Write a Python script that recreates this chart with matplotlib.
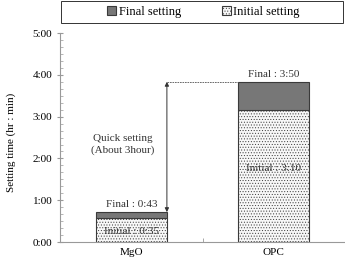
import numpy as np
import matplotlib
matplotlib.use('Agg')
import matplotlib.pyplot as plt
from matplotlib.patches import Rectangle

plt.rcParams['font.family'] = ['Liberation Serif', 'DejaVu Serif']
plt.rcParams['hatch.color'] = '#c4c4c4'
plt.rcParams['hatch.linewidth'] = 0.4

categories = ['MgO', 'OPC']
initial = [35, 190]      # minutes
final = [43, 230]        # minutes
initial_labels = ['Initial : 0:35', 'Initial : 3:10']
final_labels = ['Final : 0:43', 'Final : 3:50']
yticks = [0, 60, 120, 180, 240, 300]
ytick_labels = ['0:00', '1:00', '2:00', '3:00', '4:00', '5:00']

fig = plt.figure(figsize=(3.45, 2.62), dpi=100)
ax = fig.add_axes([0.174, 0.076, 0.826, 0.798])

x = np.arange(len(categories))
width = 0.5
edge = '#3a3a3a'

ax.bar(x, initial, width, color='#f7f7f7', edgecolor=edge, hatch='......',
       linewidth=0.8, label='Initial setting', zorder=2)
ax.bar(x, np.array(final) - np.array(initial), width, bottom=initial,
       color='#777777', edgecolor=edge, linewidth=0.8, label='Final setting', zorder=2)

fs = 8
tc = '#333333'
ax.text(x[0], initial[0] / 2 - 2, initial_labels[0], ha='center', va='center', fontsize=fs, color=tc, zorder=3)
ax.text(x[0], final[0] + 5, final_labels[0], ha='center', va='bottom', fontsize=fs, color=tc)
ax.text(x[1], 106, initial_labels[1], ha='center', va='center', fontsize=fs, color=tc, zorder=3)
ax.text(x[1], final[1] + 4, final_labels[1], ha='center', va='bottom', fontsize=fs, color=tc)

# quick setting arrow
ax_x = x[0] + width / 2
ax.plot([ax_x, x[1] - width / 2], [final[1], final[1]], ls=(0, (2, 1)), color='#555555', lw=0.6)
ax.annotate('', xy=(ax_x, final[0]), xytext=(ax_x, final[1]),
            arrowprops=dict(arrowstyle='<|-|>', color=tc, lw=0.7,
                            mutation_scale=6, shrinkA=0, shrinkB=0))
ax.text(-0.06, 140, 'Quick setting\n(About 3hour)', ha='center', va='center', fontsize=fs,
        color=tc, linespacing=1.3)

ax.set_xlim(-0.5, 1.5)
ax.set_ylim(0, 300)
ax.set_yticks(yticks)
ax.set_yticklabels(ytick_labels, fontsize=fs)
ax.set_yticks(np.arange(0, 301, 10), minor=True)
ax.set_xticks(x)
ax.set_xticklabels(categories, fontsize=fs)
ax.set_xticks([0.5, 1.5], minor=True)
ax.tick_params(axis='x', which='major', length=0, pad=4)
ax.tick_params(axis='x', which='minor', length=3, color='#999999', direction='in')
ax.tick_params(axis='y', which='major', length=4, color='#999999', direction='inout')
ax.tick_params(axis='y', which='minor', length=2, color='#aaaaaa', direction='in')
ax.set_ylabel('Setting time (hr : min)', fontsize=8)
ax.yaxis.set_label_coords(-0.155, 0.475)
for s in ['top', 'right']:
    ax.spines[s].set_visible(False)
for s in ['left', 'bottom']:
    ax.spines[s].set_color('#999999')
    ax.spines[s].set_linewidth(0.8)

# legend box across the top
fig.patches.append(Rectangle((0.177, 0.912), 0.817, 0.085, transform=fig.transFigure,
                             fill=False, edgecolor='#333333', linewidth=0.7))
h, l = ax.get_legend_handles_labels()
leg = fig.legend(h[::-1], l[::-1], loc='center', bbox_to_anchor=(0.59, 0.954),
                 ncol=2, fontsize=9, frameon=False,
                 handlelength=0.7, handleheight=0.7, handletextpad=0.2,
                 columnspacing=3.3, borderaxespad=0)

fig.savefig('out.png', dpi=100)
